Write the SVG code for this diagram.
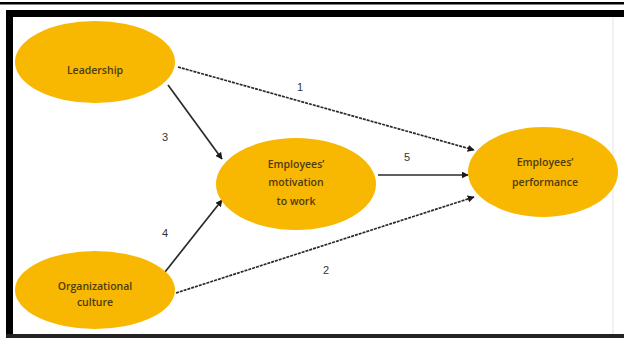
<svg xmlns="http://www.w3.org/2000/svg" width="624" height="338" viewBox="0 0 624 338">
  <style>
    .node { fill: #F8B700; }
    .lbl { font-family: "Open Sans", "Liberation Sans", sans-serif; font-size: 10.5px; font-weight: 600; fill: #4d3c10; text-anchor: middle; }
    .num { font-family: "Liberation Sans", sans-serif; font-size: 11px; fill: #333; text-anchor: middle; }
    .link { stroke: #2a2a2a; stroke-width: 1.7; fill: none; marker-end: url(#head); }
    .dash { stroke-dasharray: 3 1; }
  </style>
  <defs>
    <marker id="head" viewBox="0 0 10 10" refX="9" refY="5" markerWidth="7" markerHeight="7" orient="auto" markerUnits="userSpaceOnUse">
      <path d="M0,0 L10,5 L0,10 z" fill="#1a1a1a"/>
    </marker>
  </defs>

  <rect width="624" height="338" fill="#fff"/>
  <!-- frame -->
  <rect x="0" y="2" width="624" height="2.5" fill="#000"/>
  <rect x="6" y="10" width="618" height="7" fill="#000"/>
  <rect x="6" y="10" width="7" height="328" fill="#000"/>
  <rect x="6" y="334" width="618" height="4" fill="#222"/>
  <rect x="612" y="17" width="2" height="317" fill="#f2f2f2"/>

  <g id="connectors">
    <line class="link dash" x1="178" y1="67" x2="474" y2="150"/>
    <line class="link" x1="168" y1="85" x2="222" y2="159"/>
    <line class="link" x1="165" y1="272" x2="222" y2="200"/>
    <line class="link" x1="378" y1="175" x2="468" y2="175"/>
    <line class="link dash" x1="176" y1="293" x2="474" y2="197"/>
    <text class="num" x="300" y="91">1</text>
    <text class="num" x="165" y="141">3</text>
    <text class="num" x="165" y="237">4</text>
    <text class="num" x="407" y="161">5</text>
    <text class="num" x="326" y="274">2</text>
  </g>

  <g id="leadership">
    <ellipse class="node" cx="95" cy="62" rx="80" ry="41"/>
    <text class="lbl" x="95" y="74">Leadership</text>
  </g>

  <g id="culture">
    <ellipse class="node" cx="95" cy="290" rx="80" ry="39"/>
    <text class="lbl" x="95" y="290">Organizational</text>
    <text class="lbl" x="95" y="306">culture</text>
  </g>

  <g id="motivation">
    <ellipse class="node" cx="296" cy="184" rx="80" ry="46"/>
    <text class="lbl" x="296" y="168">Employees’</text>
    <text class="lbl" x="296" y="186">motivation</text>
    <text class="lbl" x="296" y="205">to work</text>
  </g>

  <g id="performance">
    <ellipse class="node" cx="543" cy="172" rx="75" ry="45"/>
    <text class="lbl" x="545" y="166">Employees’</text>
    <text class="lbl" x="545" y="186">performance</text>
  </g>
</svg>
